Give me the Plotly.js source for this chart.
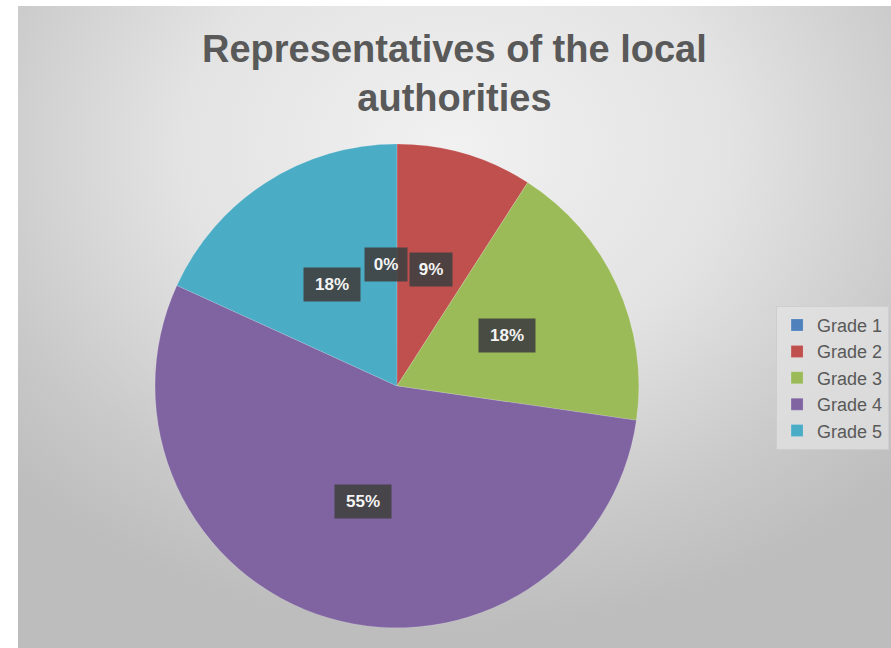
<!DOCTYPE html>
<html>
<head>
<meta charset="utf-8">
<script src="https://cdn.plot.ly/plotly-3.0.1.min.js"></script>
<style>
  html, body { margin: 0; padding: 0; background: #ffffff; }
  #wrap { position: relative; width: 891px; height: 648px; overflow: hidden; }
  #bg { position: absolute; left: 18px; top: 6px; right: 0; bottom: 0;
        background: radial-gradient(ellipse 70% 75% at 50% 22%, #f1f1f1 0%, #e3e3e3 45%, #c9c9c9 80%, #bdbdbd 100%); }
  #chart { position: absolute; left: 0; top: 0; width: 891px; height: 648px; }
</style>
</head>
<body>
<div id="wrap"><div id="bg"></div><div id="chart"></div></div>
<script>
const categories = ["Grade 1", "Grade 2", "Grade 3", "Grade 4", "Grade 5"];
const values = [0, 1, 2, 6, 2];
const colors = ["#4f81bd", "#c0504d", "#9bbb59", "#8064a2", "#4bacc6"];
const titleText = "Representatives of the local<br>authorities";

const W = 891, H = 648;
const domX = [0.174, 0.717];
const domY = [0.031, 0.778];

const trace = {
  type: "pie",
  labels: categories,
  values: values,
  sort: false,
  direction: "clockwise",
  rotation: 0,
  marker: { colors: colors, line: { color: "rgba(255,255,255,0.3)", width: 0.5 } },
  textinfo: "none",
  hoverinfo: "label+percent",
  domain: { x: domX, y: domY },
  showlegend: true
};

// Data labels: dark boxes at half radius, at each slice's mid-angle
const total = values.reduce((a, b) => a + b, 0);
const cx = (domX[0] + domX[1]) / 2 * W;
const cy = (1 - (domY[0] + domY[1]) / 2) * H;
const R = Math.min((domX[1] - domX[0]) * W, (domY[1] - domY[0]) * H) / 2;
const annotations = [];
let cum = 0;
values.forEach((v, i) => {
  const frac = v / total;
  const mid = (cum + frac / 2) * 2 * Math.PI;
  cum += frac;
  const px = cx + 0.5 * R * Math.sin(mid);
  const py = cy - 0.5 * R * Math.cos(mid);
  const txt = Math.round(frac * 100) + "%";
  const big = txt.length > 2;
  annotations.push({
    xref: "paper", yref: "paper",
    x: px / W, y: 1 - py / H,
    xanchor: "center", yanchor: "middle",
    text: txt,
    showarrow: false,
    bgcolor: "rgba(64,64,64,0.9)",
    borderpad: 7,
    width: big ? 42 : 28,
    font: { family: "Liberation Sans, Arial, sans-serif", size: 17, color: "#f4f4f4", weight: "bold" }
  });
});
// the 0% label sits just left of the 9% label at the top
annotations[0].xanchor = "right";
annotations[0].x = (cx + 11) / W;

const layout = {
  width: W, height: H,
  margin: { l: 0, r: 0, t: 0, b: 0 },
  paper_bgcolor: "rgba(0,0,0,0)",
  plot_bgcolor: "rgba(0,0,0,0)",
  title: {
    text: "<b>" + titleText + "</b>",
    x: 0.51, xanchor: "center",
    y: 0.905, yanchor: "middle",
    font: { family: "Liberation Sans, Arial, sans-serif", size: 38, color: "#595959" }
  },
  legend: {
    x: 0.871, xanchor: "left",
    y: 0.417, yanchor: "middle",
    bgcolor: "rgba(228,228,228,0.7)",
    bordercolor: "rgba(205,205,205,0.9)",
    borderwidth: 1,
    font: { family: "Liberation Sans, Arial, sans-serif", size: 18, color: "#595959" },
    itemwidth: 30
  },
  annotations: annotations
};

Plotly.newPlot("chart", [trace], layout, { displayModeBar: false, staticPlot: true });
</script>
</body>
</html>
